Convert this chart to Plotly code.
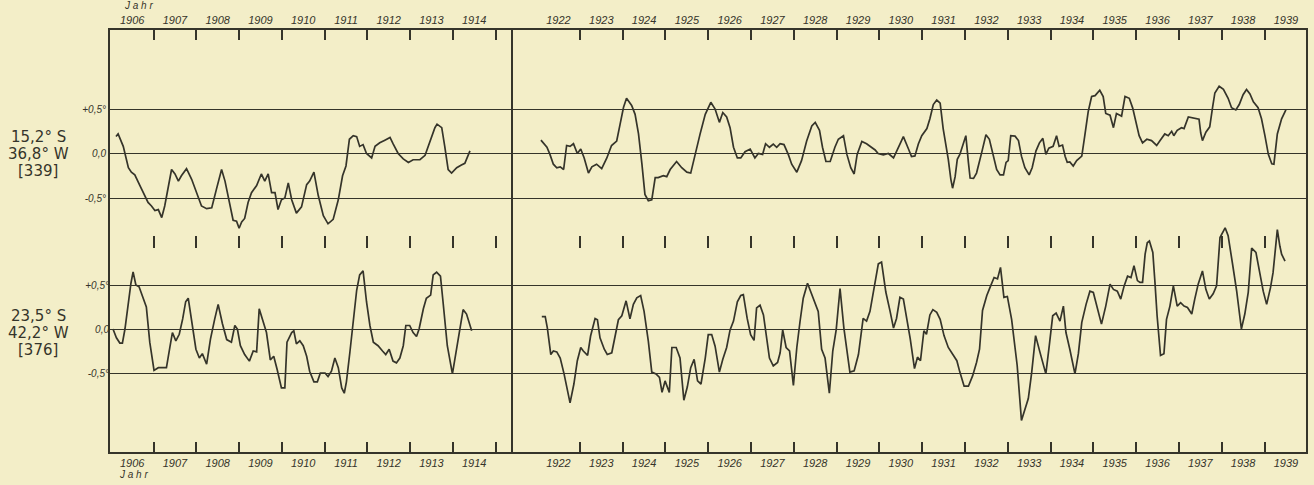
import plotly.graph_objects as go

# ---------------- data (years, temperature anomaly in deg) ----------------
tl_years = [1906.12, 1906.17, 1906.29, 1906.41, 1906.48, 1906.56, 1906.68, 1906.80, 1906.87, 1906.95,
            1907.03, 1907.11, 1907.19, 1907.26, 1907.34, 1907.42, 1907.50, 1907.58, 1907.65, 1907.77,
            1907.89, 1908.00, 1908.12, 1908.24, 1908.36, 1908.47, 1908.59, 1908.67, 1908.78, 1908.86,
            1908.94, 1909.00, 1909.06, 1909.13, 1909.21, 1909.29, 1909.41, 1909.52, 1909.60, 1909.68,
            1909.76, 1909.84, 1909.91, 1909.99, 1910.07, 1910.15, 1910.23, 1910.34, 1910.46, 1910.58,
            1910.65, 1910.75, 1910.85, 1910.97, 1911.08, 1911.20, 1911.32, 1911.42, 1911.50, 1911.58,
            1911.67, 1911.75, 1911.82, 1911.90, 1911.98, 1912.10, 1912.18, 1912.29, 1912.41, 1912.53,
            1912.60, 1912.72, 1912.84, 1912.96, 1913.07, 1913.23, 1913.35, 1913.46, 1913.58, 1913.63,
            1913.74, 1913.81, 1913.89, 1913.97, 1914.09, 1914.20, 1914.28, 1914.40]
tl_vals = [0.19, 0.22, 0.08, -0.16, -0.21, -0.24, -0.36, -0.47, -0.55, -0.59,
           -0.64, -0.63, -0.72, -0.59, -0.40, -0.18, -0.23, -0.31, -0.25, -0.17,
           -0.29, -0.44, -0.59, -0.62, -0.61, -0.40, -0.18, -0.31, -0.59, -0.75,
           -0.76, -0.84, -0.77, -0.73, -0.55, -0.44, -0.36, -0.23, -0.31, -0.23,
           -0.44, -0.44, -0.63, -0.52, -0.50, -0.33, -0.52, -0.67, -0.60, -0.35,
           -0.31, -0.21, -0.47, -0.70, -0.79, -0.74, -0.52, -0.25, -0.14, 0.16,
           0.20, 0.19, 0.08, 0.10, 0.00, -0.05, 0.08, 0.12, 0.15, 0.18,
           0.11, 0.00, -0.06, -0.10, -0.07, -0.07, -0.02, 0.14, 0.29, 0.33,
           0.29, 0.08, -0.18, -0.22, -0.16, -0.13, -0.11, 0.03]

tr_years = [1922.09, 1922.23, 1922.30, 1922.38, 1922.46, 1922.54, 1922.62, 1922.69, 1922.77, 1922.85,
            1922.94, 1923.02, 1923.10, 1923.20, 1923.28, 1923.39, 1923.51, 1923.63, 1923.74, 1923.86,
            1923.94, 1924.02, 1924.09, 1924.21, 1924.29, 1924.37, 1924.45, 1924.52, 1924.60, 1924.68,
            1924.76, 1924.83, 1924.95, 1925.03, 1925.11, 1925.26, 1925.38, 1925.50, 1925.59, 1925.69,
            1925.81, 1925.93, 1926.06, 1926.16, 1926.26, 1926.34, 1926.43, 1926.51, 1926.59, 1926.68,
            1926.76, 1926.86, 1926.98, 1927.09, 1927.17, 1927.27, 1927.34, 1927.43, 1927.52, 1927.60,
            1927.68, 1927.77, 1927.87, 1927.95, 1928.07, 1928.18, 1928.30, 1928.42, 1928.50, 1928.60,
            1928.67, 1928.75, 1928.85, 1928.96, 1929.04, 1929.16, 1929.24, 1929.33, 1929.41, 1929.48,
            1929.59, 1929.70, 1929.82, 1929.90, 1929.97, 1930.09, 1930.21, 1930.33, 1930.48,
            1930.56, 1930.68, 1930.75, 1930.83, 1930.91, 1930.99, 1931.11, 1931.18, 1931.26, 1931.34,
            1931.42, 1931.49, 1931.56, 1931.61, 1931.67, 1931.71, 1931.77, 1931.82, 1931.88, 1931.96,
            1932.02, 1932.08, 1932.12, 1932.20, 1932.27, 1932.39, 1932.49, 1932.57, 1932.65, 1932.74,
            1932.82, 1932.90, 1932.96, 1933.01, 1933.07, 1933.17, 1933.25, 1933.32, 1933.40, 1933.50,
            1933.57, 1933.66, 1933.74, 1933.82, 1933.89, 1933.96, 1934.06, 1934.14, 1934.20, 1934.28,
            1934.34, 1934.39, 1934.45, 1934.53, 1934.61, 1934.73, 1934.80, 1934.88, 1934.96, 1935.04,
            1935.15, 1935.23, 1935.29, 1935.39, 1935.47, 1935.54, 1935.62, 1935.66, 1935.74, 1935.84,
            1935.92, 1936.00, 1936.07, 1936.15, 1936.25, 1936.36, 1936.48, 1936.56, 1936.67, 1936.75,
            1936.83, 1936.88, 1936.96, 1937.06, 1937.12, 1937.22, 1937.31, 1937.41, 1937.47, 1937.51,
            1937.55, 1937.63, 1937.72, 1937.79, 1937.84, 1937.94, 1938.04, 1938.15, 1938.23, 1938.33,
            1938.41, 1938.50, 1938.58, 1938.66, 1938.74, 1938.85, 1938.93, 1939.01, 1939.09, 1939.17,
            1939.22, 1939.30, 1939.40, 1939.50]
tr_vals = [0.15, 0.07, -0.01, -0.12, -0.16, -0.15, -0.18, 0.09, 0.08, 0.11,
           0.00, 0.05, -0.05, -0.22, -0.15, -0.12, -0.17, -0.05, 0.09, 0.14,
           0.33, 0.52, 0.62, 0.54, 0.44, 0.22, -0.12, -0.46, -0.53, -0.52,
           -0.27, -0.27, -0.25, -0.26, -0.18, -0.09, -0.16, -0.21, -0.22, -0.01,
           0.22, 0.44, 0.575, 0.50, 0.35, 0.46, 0.41, 0.29, 0.07, -0.05,
           -0.05, 0.02, 0.05, -0.05, 0.00, -0.01, 0.11, 0.07, 0.105, 0.07,
           0.11, 0.10, -0.01, -0.12, -0.21, -0.08, 0.14, 0.31, 0.35, 0.26,
           0.07, -0.09, -0.09, 0.07, 0.16, 0.20, -0.01, -0.16, -0.23, -0.01,
           0.135, 0.11, 0.07, 0.04, 0.00, -0.015, 0.00, -0.05, 0.105,
           0.19, 0.05, -0.034, -0.027, 0.107, 0.20, 0.28, 0.39, 0.55, 0.60,
           0.565, 0.28, 0.09, -0.065, -0.29, -0.39, -0.26, -0.065, -0.01, 0.126,
           0.20, -0.10, -0.275, -0.28, -0.22, 0.01, 0.21, 0.16, 0.01, -0.18,
           -0.24, -0.24, -0.10, -0.08, 0.20, 0.195, 0.145, -0.03, -0.16, -0.24,
           -0.16, 0.03, 0.12, 0.17, -0.01, 0.06, 0.08, 0.20, 0.08, 0.095,
           -0.03, -0.10, -0.095, -0.14, -0.08, -0.03, 0.20, 0.47, 0.64, 0.65,
           0.71, 0.64, 0.45, 0.43, 0.29, 0.45, 0.43, 0.42, 0.64, 0.62,
           0.51, 0.34, 0.20, 0.12, 0.16, 0.145, 0.09, 0.145, 0.22, 0.20,
           0.25, 0.20, 0.26, 0.29, 0.28, 0.41, 0.40, 0.385, 0.385, 0.23,
           0.145, 0.24, 0.30, 0.53, 0.68, 0.755, 0.72, 0.62, 0.515, 0.49,
           0.55, 0.66, 0.72, 0.67, 0.58, 0.515, 0.39, 0.20, -0.01, -0.115,
           -0.12, 0.22, 0.39, 0.49]

bl_years = [1906.05, 1906.13, 1906.21, 1906.27, 1906.33, 1906.41, 1906.47, 1906.52, 1906.585, 1906.66,
            1906.74, 1906.83, 1906.91, 1907.01, 1907.11, 1907.22, 1907.30, 1907.38, 1907.44, 1907.52,
            1907.60, 1907.68, 1907.75, 1907.81, 1907.89, 1907.99, 1908.07, 1908.14, 1908.24, 1908.33,
            1908.43, 1908.51, 1908.61, 1908.71, 1908.82, 1908.90, 1908.96, 1909.03, 1909.13, 1909.24,
            1909.33, 1909.41, 1909.47, 1909.56, 1909.64, 1909.73, 1909.81, 1909.89, 1909.99, 1910.07,
            1910.12, 1910.23, 1910.28, 1910.34, 1910.42, 1910.50, 1910.58, 1910.65, 1910.75, 1910.83,
            1910.90, 1911.01, 1911.08, 1911.16, 1911.24, 1911.32, 1911.40, 1911.46, 1911.51, 1911.59,
            1911.67, 1911.75, 1911.82, 1911.90, 1911.98, 1912.06, 1912.14, 1912.25, 1912.355, 1912.43,
            1912.51, 1912.60, 1912.68, 1912.76, 1912.84, 1912.90, 1912.99, 1913.07, 1913.15, 1913.21,
            1913.31, 1913.38, 1913.48, 1913.54, 1913.62, 1913.71, 1913.77, 1913.87, 1913.99, 1914.07,
            1914.15, 1914.24, 1914.32, 1914.40, 1914.44]
bl_vals = [0.00, -0.10, -0.16, -0.16, 0.00, 0.31, 0.52, 0.65, 0.50, 0.48,
           0.365, 0.25, -0.15, -0.47, -0.44, -0.44, -0.44, -0.21, -0.04, -0.135,
           -0.06, 0.115, 0.31, 0.35, 0.115, -0.23, -0.33, -0.28, -0.40, -0.115,
           0.115, 0.28, 0.06, -0.12, -0.15, 0.04, 0.00, -0.19, -0.29, -0.365,
           -0.25, -0.26, 0.23, 0.08, -0.04, -0.35, -0.31, -0.46, -0.67, -0.67,
           -0.15, -0.04, -0.02, -0.17, -0.135, -0.19, -0.31, -0.48, -0.60, -0.60,
           -0.50, -0.50, -0.54, -0.48, -0.33, -0.44, -0.67, -0.73, -0.60, -0.27,
           0.115, 0.44, 0.615, 0.66, 0.31, 0.04, -0.15, -0.19, -0.25, -0.29,
           -0.23, -0.365, -0.385, -0.33, -0.19, 0.04, 0.04, -0.04, -0.085, 0.00,
           0.23, 0.35, 0.385, 0.615, 0.645, 0.60, 0.31, -0.19, -0.51, -0.27,
           0.00, 0.22, 0.17, 0.04, -0.02]

br_years = [1922.11, 1922.19, 1922.24, 1922.32, 1922.38, 1922.46, 1922.54, 1922.63, 1922.77, 1922.86,
            1922.94, 1923.02, 1923.08, 1923.18, 1923.25, 1923.355, 1923.41, 1923.47, 1923.57, 1923.64,
            1923.745, 1923.82, 1923.90, 1923.98, 1924.08, 1924.17, 1924.25, 1924.33, 1924.42, 1924.50,
            1924.60, 1924.68, 1924.78, 1924.86, 1924.92, 1924.99, 1925.09, 1925.15, 1925.25, 1925.34,
            1925.43, 1925.51, 1925.59, 1925.67, 1925.75, 1925.83, 1925.93, 1926.00, 1926.08, 1926.16,
            1926.26, 1926.34, 1926.43, 1926.51, 1926.59, 1926.68, 1926.76, 1926.82, 1926.91, 1926.99,
            1927.07, 1927.13, 1927.21, 1927.29, 1927.37, 1927.43, 1927.52, 1927.62, 1927.68, 1927.74,
            1927.82, 1927.90, 1927.99, 1928.07, 1928.145, 1928.22, 1928.32, 1928.42, 1928.50, 1928.57,
            1928.65, 1928.73, 1928.83, 1928.91, 1928.99, 1929.08, 1929.17, 1929.25, 1929.31, 1929.41,
            1929.51, 1929.62, 1929.70, 1929.78, 1929.90, 1929.975, 1930.05, 1930.15, 1930.25, 1930.33,
            1930.40,
            1930.48, 1930.56, 1930.64, 1930.72, 1930.82, 1930.89, 1930.96, 1931.04, 1931.10, 1931.18,
            1931.25, 1931.34, 1931.42, 1931.51, 1931.61, 1931.71, 1931.81, 1931.88, 1931.98, 1932.08,
            1932.18, 1932.27, 1932.34, 1932.41, 1932.51, 1932.60, 1932.68, 1932.76, 1932.83, 1932.91,
            1932.99, 1933.09, 1933.17, 1933.22, 1933.32, 1933.38, 1933.48, 1933.56, 1933.65, 1933.75,
            1933.89, 1933.97, 1934.05, 1934.13, 1934.22, 1934.30, 1934.36, 1934.45, 1934.57, 1934.65,
            1934.73, 1934.83, 1934.92, 1935.00, 1935.09, 1935.19, 1935.29, 1935.39, 1935.47, 1935.56,
            1935.64, 1935.72, 1935.80, 1935.88, 1935.95, 1936.03, 1936.09, 1936.15, 1936.21, 1936.26,
            1936.31, 1936.39, 1936.44, 1936.49, 1936.57, 1936.65, 1936.71, 1936.79, 1936.87, 1936.96,
            1937.04, 1937.12, 1937.20, 1937.30, 1937.37, 1937.45, 1937.55, 1937.63, 1937.71, 1937.80,
            1937.88, 1937.96, 1938.08, 1938.15, 1938.25, 1938.35, 1938.46, 1938.54, 1938.62, 1938.70,
            1938.80, 1938.89, 1938.97, 1939.05, 1939.14, 1939.20, 1939.30, 1939.36, 1939.40, 1939.48]
br_vals = [0.14, 0.14, 0.01, -0.29, -0.25, -0.26, -0.33, -0.51, -0.84, -0.625,
           -0.36, -0.21, -0.25, -0.30, -0.08, 0.12, 0.105, -0.10, -0.23, -0.29,
           -0.27, -0.10, 0.105, 0.15, 0.32, 0.115, 0.28, 0.355, 0.38, 0.20,
           -0.14, -0.49, -0.51, -0.55, -0.72, -0.59, -0.72, -0.21, -0.21, -0.33,
           -0.81, -0.66, -0.44, -0.345, -0.59, -0.625, -0.33, -0.064, -0.064, -0.195,
           -0.49, -0.345, -0.21, -0.01, 0.09, 0.31, 0.38, 0.39, 0.12, -0.064,
           -0.13, 0.24, 0.27, 0.16, -0.14, -0.33, -0.42, -0.38, -0.27, -0.01,
           -0.21, -0.25, -0.64, -0.21, 0.085, 0.35, 0.52, 0.40, 0.29, 0.20,
           -0.23, -0.33, -0.73, -0.25, -0.01, 0.46, 0.01, -0.29, -0.49, -0.475,
           -0.29, 0.12, 0.09, 0.20, 0.535, 0.74, 0.76, 0.42, 0.20, 0.01,
           0.12,
           0.36, 0.34, 0.11, -0.11, -0.45, -0.32, -0.36, -0.02, -0.06, 0.16,
           0.22, 0.19, 0.11, -0.075, -0.21, -0.28, -0.36, -0.49, -0.65, -0.65,
           -0.53, -0.38, -0.23, 0.21, 0.38, 0.49, 0.585, 0.57, 0.70, 0.36,
           0.37, 0.11, -0.23, -0.415, -1.04, -0.94, -0.79, -0.49, -0.075, -0.26,
           -0.51, -0.19, 0.15, 0.18, 0.09, 0.26, -0.04, -0.23, -0.51, -0.28,
           0.075, 0.28, 0.43, 0.415, 0.245, 0.055, 0.26, 0.51, 0.45, 0.43,
           0.34, 0.49, 0.60, 0.585, 0.72, 0.55, 0.53, 0.53, 0.85, 0.98,
           1.00, 0.87, 0.53, 0.15, -0.30, -0.28, 0.11, 0.26, 0.49, 0.26,
           0.30, 0.26, 0.245, 0.17, 0.34, 0.51, 0.66, 0.45, 0.34, 0.40,
           0.49, 1.04, 1.15, 1.06, 0.75, 0.43, 0.00, 0.17, 0.415, 0.92,
           0.87, 0.64, 0.43, 0.28, 0.47, 0.64, 1.13, 0.94, 0.85, 0.77]

left_year_labels = list(range(1906, 1915))
right_year_labels = list(range(1922, 1940))
ref_levels = [-0.5, 0.0, 0.5]
ref_texts = ["-0,5°", "0,0", "+0,5°"]
station_top = ["15,2° S", "36,8° W", "[339]"]
station_bottom = ["23,5° S", "42,2° W", "[376]"]

# ---------------- style / geometry ----------------
W, H = 1314, 485
INK = "#35342a"
BG = "#f3eec8"
X_LEFT, X_SEP, X_RIGHT = 110, 511, 1306
Y_TOP, Y_BOT = 30, 452
L_RANGE = [1905.98, 1915.36]
R_RANGE = [1921.39, 1939.97]
TOP_RANGE = [(153.5 - Y_BOT) / 89.0, (153.5 - Y_TOP) / 89.0]
BOT_RANGE = [(329.0 - Y_BOT) / 88.0, (329.0 - Y_TOP) / 88.0]


def px(v):
    return v / W


def py(v):
    return 1 - v / H


year_font = dict(family="Liberation Sans Narrow, Liberation Sans, sans-serif",
                 size=11, color=INK, style="italic")
lab_font = dict(family="Liberation Sans, sans-serif", size=10, color=INK, style="italic")

line_style = dict(color=INK, width=1.7)

fig = go.Figure()
# top panel on the top-labelled axes, bottom panel on the bottom-labelled axes
fig.add_trace(go.Scatter(x=tl_years, y=tl_vals, xaxis="x3", yaxis="y", mode="lines", line=line_style))
fig.add_trace(go.Scatter(x=tr_years, y=tr_vals, xaxis="x4", yaxis="y", mode="lines", line=line_style))
fig.add_trace(go.Scatter(x=bl_years, y=bl_vals, xaxis="x", yaxis="y2", mode="lines", line=line_style))
fig.add_trace(go.Scatter(x=br_years, y=br_vals, xaxis="x2", yaxis="y2", mode="lines", line=line_style))
# empty traces so that the middle tick axes and right frame axis are rendered
fig.add_trace(go.Scatter(x=[], y=[], xaxis="x5", yaxis="y", mode="lines", hoverinfo="skip"))
fig.add_trace(go.Scatter(x=[], y=[], xaxis="x6", yaxis="y", mode="lines", hoverinfo="skip"))
fig.add_trace(go.Scatter(x=[], y=[], xaxis="x2", yaxis="y3", mode="lines", hoverinfo="skip"))

dom_y = [py(Y_BOT), py(Y_TOP)]
dom_l = [px(X_LEFT), px(X_SEP)]
dom_r = [px(X_SEP), px(X_RIGHT)]


def xax(domain, rng, years, side, anchor, overlay=None):
    d = dict(domain=domain, range=rng, anchor=anchor, side=side,
             showline=True, linecolor=INK, linewidth=2,
             tickmode="array", tickvals=[y + 0.5 for y in years],
             ticktext=[str(y) for y in years], ticks="",
             showticklabels=True, tickfont=year_font,
             showgrid=False, zeroline=False, fixedrange=True, automargin=False,
             minor=dict(tickmode="array", tickvals=[y + 1 for y in years],
                        ticks="inside", ticklen=10, tickwidth=1.6, tickcolor=INK,
                        showgrid=False))
    if overlay:
        d["overlaying"] = overlay
    return d


def midax(rng, years, overlay):
    return dict(range=rng, anchor="free", position=py(235), side="bottom",
                overlaying=overlay, showline=False, showgrid=False, zeroline=False,
                tickmode="array", tickvals=[y + 1 for y in years],
                ticks="outside", ticklen=12, tickwidth=1.6, tickcolor=INK,
                showticklabels=False, fixedrange=True, automargin=False)


fig.update_layout(
    width=W, height=H,
    margin=dict(l=0, r=0, t=0, b=0),
    paper_bgcolor=BG, plot_bgcolor="rgba(0,0,0,0)",
    showlegend=False,
    xaxis=xax(dom_l, L_RANGE, left_year_labels, "bottom", "y"),
    xaxis2=xax(dom_r, R_RANGE, right_year_labels, "bottom", "y"),
    xaxis3=xax(dom_l, L_RANGE, left_year_labels, "top", "y", overlay="x"),
    xaxis4=xax(dom_r, R_RANGE, right_year_labels, "top", "y", overlay="x2"),
    xaxis5=midax(L_RANGE, left_year_labels, "x"),
    xaxis6=midax(R_RANGE, right_year_labels, "x2"),
    yaxis=dict(domain=dom_y, range=TOP_RANGE, anchor="x",
               tickmode="array", tickvals=ref_levels, ticktext=ref_texts, ticks="",
               tickfont=lab_font, showgrid=True, gridcolor=INK, gridwidth=1.4,
               zeroline=False, showline=True, mirror=True, linecolor=INK, linewidth=2,
               fixedrange=True, automargin=False),
    yaxis2=dict(range=BOT_RANGE, anchor="x", overlaying="y",
                tickmode="array", tickvals=ref_levels, ticktext=ref_texts, ticks="",
                tickfont=lab_font, showgrid=True, gridcolor=INK, gridwidth=1.4,
                zeroline=False, showline=False, fixedrange=True, automargin=False),
    yaxis3=dict(range=TOP_RANGE, anchor="x2", overlaying="y", side="right",
                showline=True, linecolor=INK, linewidth=2, showgrid=False,
                zeroline=False, showticklabels=False, ticks="",
                fixedrange=True, automargin=False),
)

# station labels
st_font = dict(family="DejaVu Sans, sans-serif", size=15, color=INK)
for i, t in enumerate(station_top):
    fig.add_annotation(text=t, x=px(38), y=py(137 + 17 * i), xref="paper", yref="paper",
                       showarrow=False, font=st_font, xanchor="center", yanchor="middle")
for i, t in enumerate(station_bottom):
    fig.add_annotation(text=t, x=px(38), y=py(316 + 17 * i), xref="paper", yref="paper",
                       showarrow=False, font=st_font, xanchor="center", yanchor="middle")

jahr_font = dict(family="Liberation Sans, sans-serif", size=10, color=INK, style="italic")
fig.add_annotation(text="J a h r", x=px(122), y=py(6), xref="paper", yref="paper",
                   showarrow=False, font=jahr_font, xanchor="left", yanchor="middle")
fig.add_annotation(text="J a h r", x=px(117), y=py(474), xref="paper", yref="paper",
                   showarrow=False, font=jahr_font, xanchor="left", yanchor="middle")

fig.write_html("out.html", config={"displayModeBar": False},
               post_script="document.body.style.margin='0';")
